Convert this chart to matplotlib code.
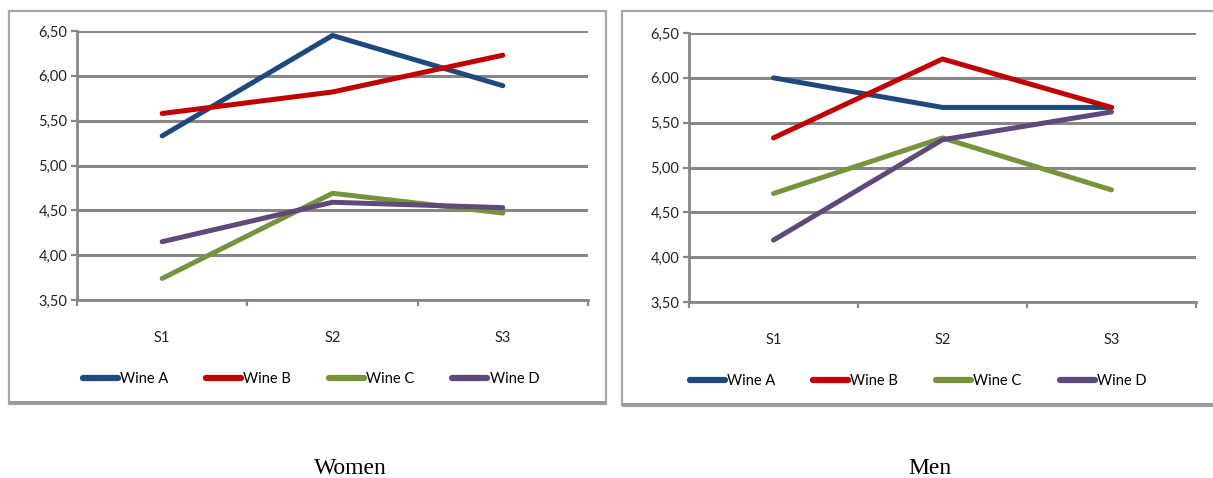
import numpy as np
import matplotlib
matplotlib.use("Agg")
import matplotlib.pyplot as plt
from matplotlib.patches import Rectangle
from matplotlib.ticker import FixedLocator, FuncFormatter

plt.rcParams.update({"font.family": ["Lato", "DejaVu Sans"]})

sessions = ["S1", "S2", "S3"]
wines = ["Wine A", "Wine B", "Wine C", "Wine D"]
colors = ["#1F497D", "#C00000", "#77933C", "#5F497A"]

women_a = [5.33, 6.45, 5.89]
women_b = [5.58, 5.82, 6.23]
women_c = [3.74, 4.69, 4.47]
women_d = [4.15, 4.59, 4.53]

men_a = [6.00, 5.67, 5.67]
men_b = [5.33, 6.21, 5.67]
men_c = [4.71, 5.33, 4.75]
men_d = [4.19, 5.31, 5.62]

W, H = 1213, 478
fig = plt.figure(figsize=(W / 100, H / 100), dpi=100)

GRID = "#878787"
FS = 10.5


def frame(x0, y0, x1, y1):
    # chart border drawn in figure pixels (top-left origin)
    fig.patches.append(Rectangle((x0 / W, 1 - y1 / H), (x1 - x0) / W, (y1 - y0) / H,
                                 transform=fig.transFigure, fill=False,
                                 edgecolor="#a6a6a6", linewidth=1.6))
    fig.patches.append(Rectangle((x0 / W, 1 - y1 / H), (x1 - x0) / W, 3 / H,
                                 transform=fig.transFigure, color="#9c9c9c", linewidth=0))


def panel(rect, series, caption, caption_x, leg_x):
    ax = fig.add_axes(rect)
    x = np.arange(len(sessions))
    for vals, name, c in zip(series, wines, colors):
        ax.plot(x, vals, color=c, lw=3.6, label=name, solid_capstyle="round", zorder=3)
    ax.set_xlim(-0.5, 2.5)
    ax.set_ylim(3.5, 6.5)
    ax.set_yticks(np.arange(3.5, 6.51, 0.5))
    ax.yaxis.set_major_formatter(FuncFormatter(lambda v, p: f"{v:.2f}".replace(".", ",")))
    ax.set_xticks(x)
    ax.set_xticklabels(sessions)
    ax.xaxis.set_minor_locator(FixedLocator([-0.5, 0.5, 1.5, 2.5]))
    ax.tick_params(axis="x", which="major", length=0, pad=22, labelsize=FS, labelcolor="#222222")
    ax.tick_params(axis="x", which="minor", length=4, width=1.6, color=GRID, direction="out")
    ax.tick_params(axis="y", length=4, width=1.6, color=GRID, pad=3, labelsize=FS,
                   labelcolor="#222222")
    ax.grid(axis="y", color=GRID, lw=2.2, zorder=1)
    ax.set_axisbelow(True)
    for s in ["top", "right"]:
        ax.spines[s].set_visible(False)
    for s in ["left", "bottom"]:
        ax.spines[s].set_color(GRID)
        ax.spines[s].set_linewidth(2.0)
    leg = ax.legend(loc="center", bbox_to_anchor=(leg_x, -0.295), ncol=4, frameon=False,
                    fontsize=FS, handlelength=2.4, handletextpad=0.15, columnspacing=2.6)
    for h in leg.get_lines():
        h.set_linewidth(4.5)
    fig.text(caption_x / W, 1 - 468 / H, caption,
             family="Liberation Serif", fontsize=17, ha="center", va="center")
    return ax


frame(9, 11, 606, 404)
frame(622, 11, 1216, 406)

panel([77 / W, 1 - 300 / H, (588 - 77) / W, (300 - 31) / H],
      [women_a, women_b, women_c, women_d], "Women", 350, 0.458)
panel([689 / W, 1 - 302 / H, (1196 - 689) / W, (302 - 33) / H],
      [men_a, men_b, men_c, men_d], "Men", 930, 0.452)

fig.savefig("out.png", dpi=100)
